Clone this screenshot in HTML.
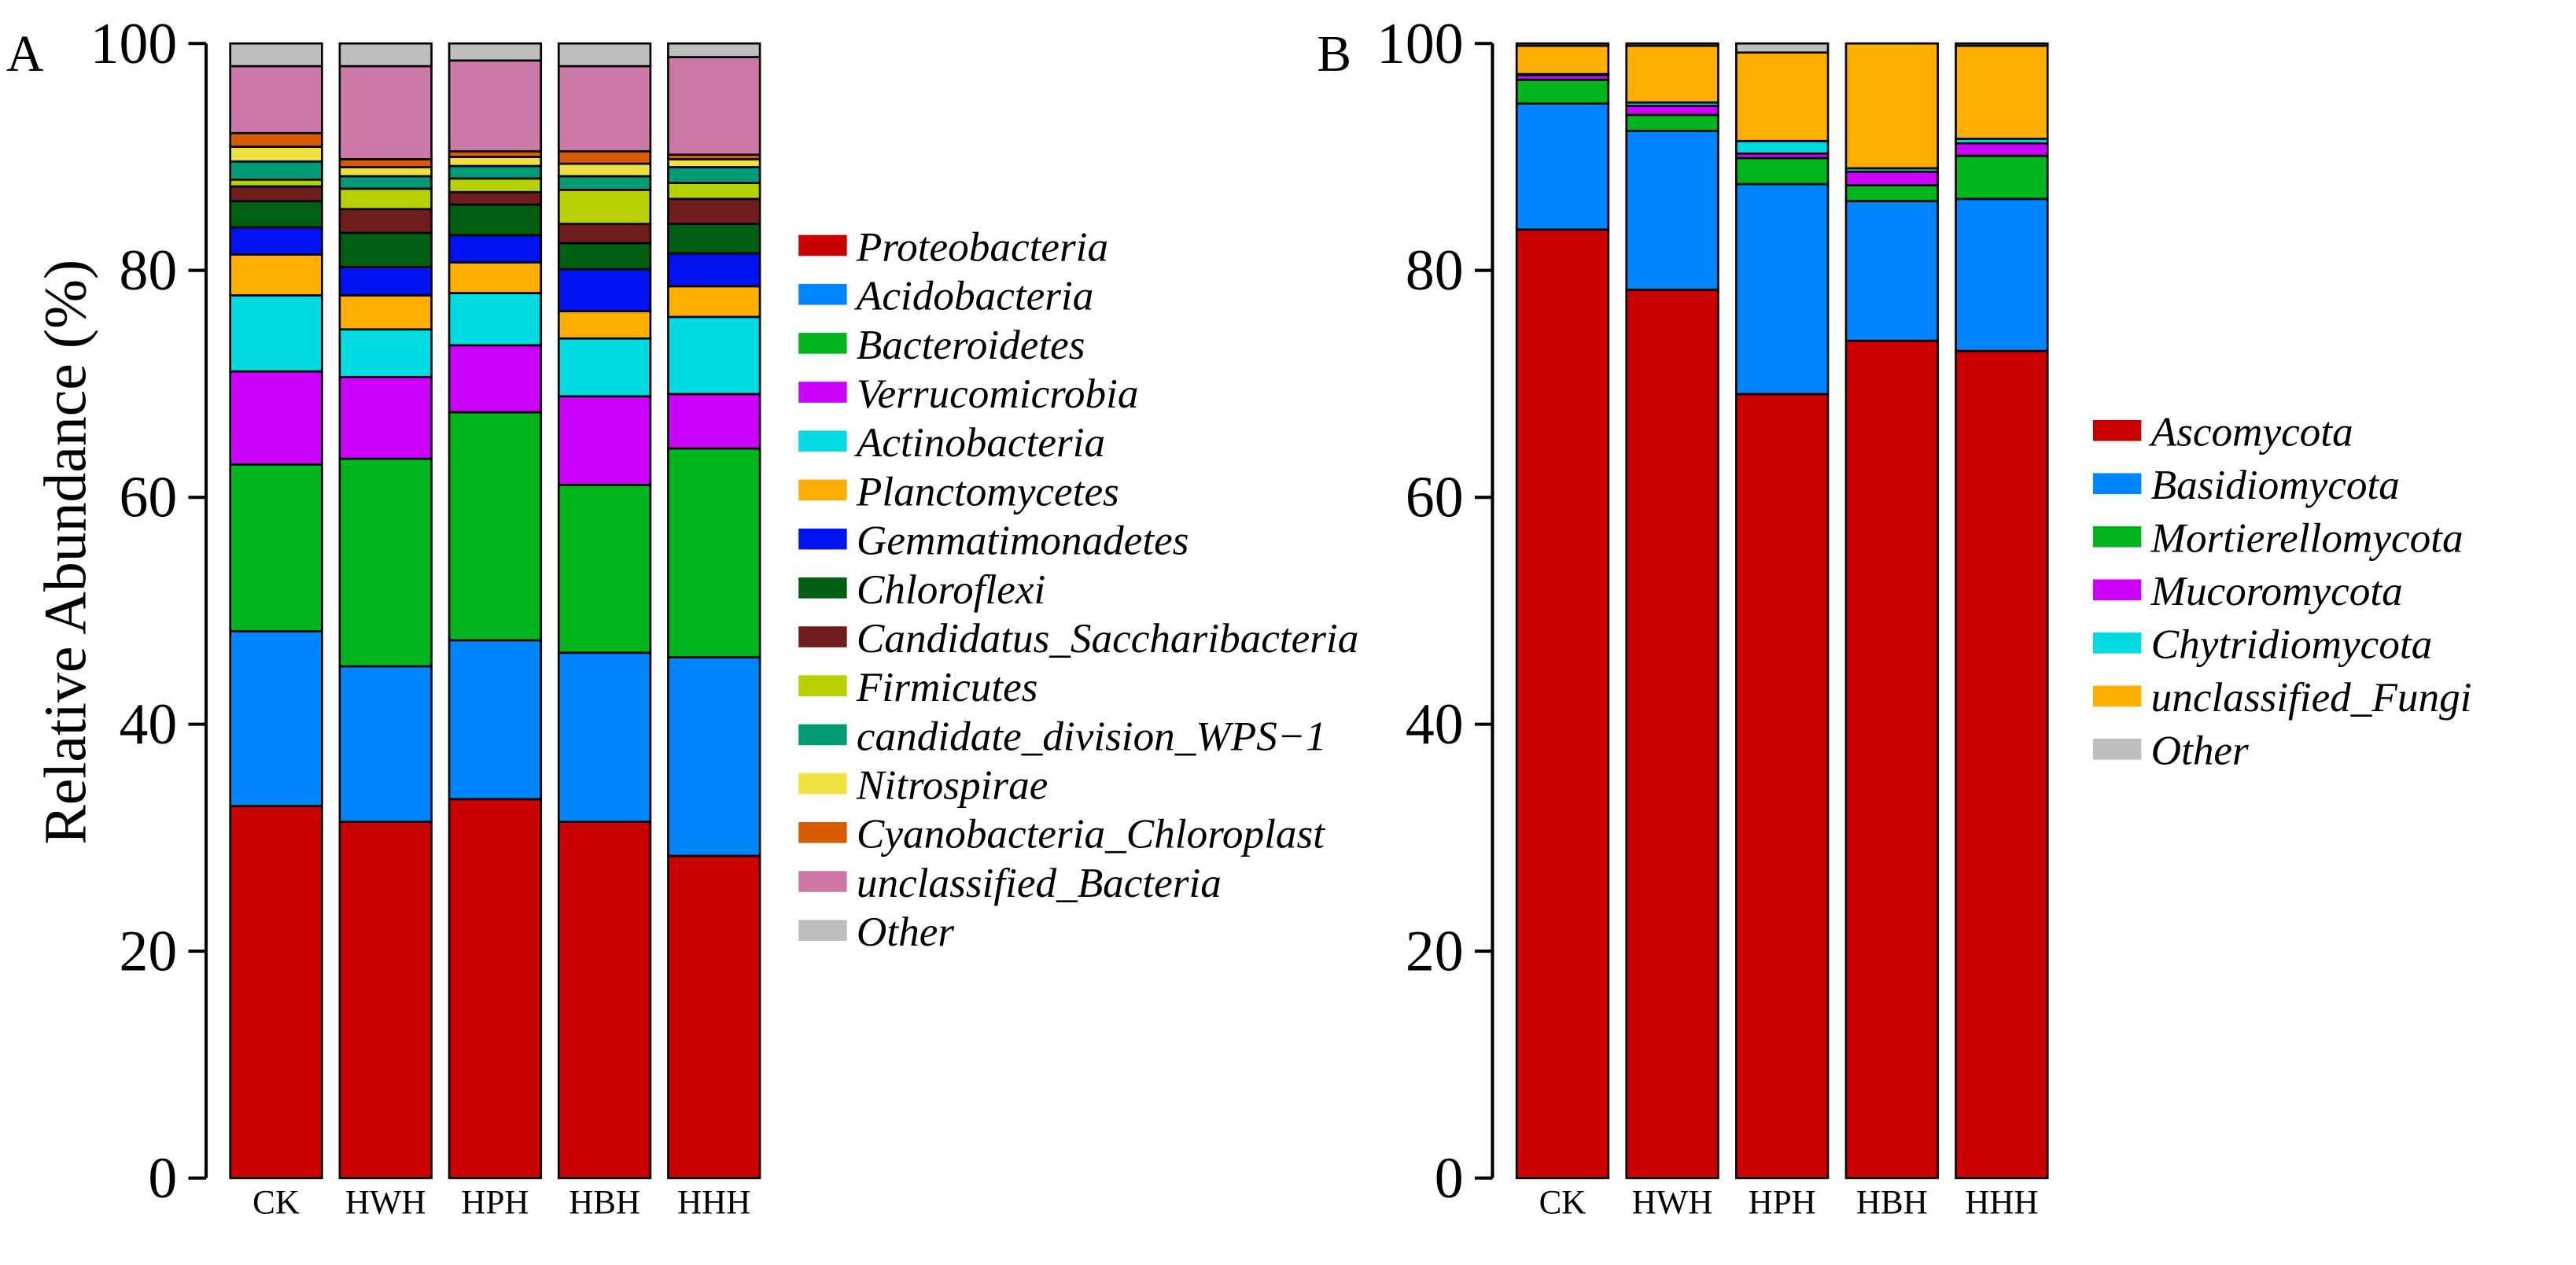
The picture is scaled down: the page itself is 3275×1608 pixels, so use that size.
<!DOCTYPE html>
<html><head><meta charset="utf-8"><style>
html,body{margin:0;padding:0;background:#fff;}
svg{display:block;font-family:"Liberation Serif",serif;}
</style></head><body>
<svg id="fig" width="3275" height="1608" viewBox="0 0 1600 786" preserveAspectRatio="none" xmlns="http://www.w3.org/2000/svg"></svg>
<script>
const groups = ["CK","HWH","HPH","HBH","HHH"];
const bactTaxa = ["Proteobacteria","Acidobacteria","Bacteroidetes","Verrucomicrobia","Actinobacteria","Planctomycetes","Gemmatimonadetes","Chloroflexi","Candidatus_Saccharibacteria","Firmicutes","candidate_division_WPS\u22121","Nitrospirae","Cyanobacteria_Chloroplast","unclassified_Bacteria","Other"];
const bactCK  = [32.8,15.4,14.7,8.2,6.7,3.6,2.4,2.3,1.3,0.6,1.6,1.3,1.2,5.9,2.0];
const bactHWH = [31.4,13.7,18.3,7.2,4.2,3.0,2.5,3.0,2.1,1.8,1.1,0.8,0.7,8.2,2.0];
const bactHPH = [33.4,14.0,20.1,5.9,4.6,2.7,2.4,2.7,1.1,1.2,1.1,0.8,0.5,8.0,1.5];
const bactHBH = [31.4,14.9,14.8,7.8,5.1,2.4,3.7,2.3,1.7,3.0,1.2,1.1,1.1,7.5,2.0];
const bactHHH = [28.4,17.5,18.4,4.8,6.8,2.7,2.9,2.6,2.2,1.4,1.4,0.7,0.4,8.6,1.2];
const fungTaxa = ["Ascomycota","Basidiomycota","Mortierellomycota","Mucoromycota","Chytridiomycota","unclassified_Fungi","Other"];
const fungCK  = [83.6,11.1,2.1,0.4,0.1,2.5,0.2];
const fungHWH = [78.3,14.0,1.4,0.8,0.3,5.0,0.2];
const fungHPH = [69.1,18.5,2.3,0.4,1.1,7.8,0.8];
const fungHBH = [73.8,12.3,1.4,1.2,0.3,11.0,0.0];
const fungHHH = [72.9,13.4,3.8,1.1,0.4,8.2,0.2];
const yTicks = [0,20,40,60,80,100];

const bactColors = ["#C80000","#0085FF","#00B41E","#CC00FF","#00DAE0","#FFAE00","#0012F0","#005E12","#6E1C1C","#B7D000","#009A74","#EEE140","#D75B00","#CC79A7","#BEBEBE"];
const fungColors = ["#C80000","#0085FF","#00B41E","#CC00FF","#00DAE0","#FFAE00","#BEBEBE"];
const NS="http://www.w3.org/2000/svg";
const svg=document.getElementById('fig');
function mk(tag,attrs,parent){const e=document.createElementNS(NS,tag);for(const k in attrs)e.setAttribute(k,attrs[k]);(parent||svg).appendChild(e);return e;}
const y0=732,y1=27;
function yScale(v){return y0+(y1-y0)*v/100;}

function panel(opts){
  const g=mk('g',{});
  
  
  const L=mk('text',{x:opts.letterX,y:44,'font-size':32},g);L.textContent=opts.letter;
  
  
  const ax=mk('g',{},g);
  
  
  mk('line',{x1:opts.axisX,x2:opts.axisX,y1:yScale(0),y2:yScale(100),stroke:'#000','stroke-width':2},ax);
  yTicks.forEach(t=>{
    const tk=mk('line',{x1:opts.axisX-11,x2:opts.axisX,y1:yScale(t),y2:yScale(t),stroke:'#000','stroke-width':2},ax);
    
    
    const tl=mk('text',{x:opts.axisX-18,y:yScale(t)+12,'font-size':36,'text-anchor':'end'},ax);
    tl.textContent=t;
    
    
  });
  opts.data.forEach((vals,i)=>{
    const bx=opts.barX0+i*opts.step;
    const bg=mk('g',{},g);
    
    
    let cum=0;
    vals.forEach((v,j)=>{
      const ya=yScale(cum), yb=yScale(cum+v);
      cum+=v;
      if(v<=0)return;
      const r=mk('rect',{x:bx,y:yb,width:opts.barW,height:ya-yb,fill:opts.colors[j],stroke:'#000','stroke-width':1.3},bg);
      
      
    });
    const xl=mk('text',{x:bx+opts.barW/2,y:754,'font-size':21,'text-anchor':'middle'},g);
    xl.textContent=groups[i];
    
    
  });
  const lg=mk('g',{},g);
  
  
  opts.taxa.forEach((t,j)=>{
    const yy=opts.legY+j*opts.legStep;
    const eg=mk('g',{},lg);
    
    
    mk('rect',{x:opts.legX,y:yy-7,width:30,height:13,fill:opts.colors[j]},eg);
    const tx=mk('text',{x:opts.legX+36,y:yy+9,'font-size':26,'font-style':'italic'},eg);
    tx.textContent=t;
  });
}
panel({name:'panel-a-bacteria',letter:'A',letterX:4,axisX:128,barX0:143,step:68,barW:57,data:[bactCK,bactHWH,bactHPH,bactHBH,bactHHH],taxa:bactTaxa,colors:bactColors,legX:496,legY:153,legStep:30.4});
panel({name:'panel-b-fungi',letter:'B',letterX:818,axisX:927,barX0:942,step:68.2,barW:57,data:[fungCK,fungHWH,fungHPH,fungHBH,fungHHH],taxa:fungTaxa,colors:fungColors,legX:1300,legY:268,legStep:33});
const yt=mk('text',{x:0,y:0,'font-size':37,'text-anchor':'middle',transform:'translate(53,343) rotate(-90)'});
yt.textContent='Relative Abundance (%)';


</script>
</body></html>
